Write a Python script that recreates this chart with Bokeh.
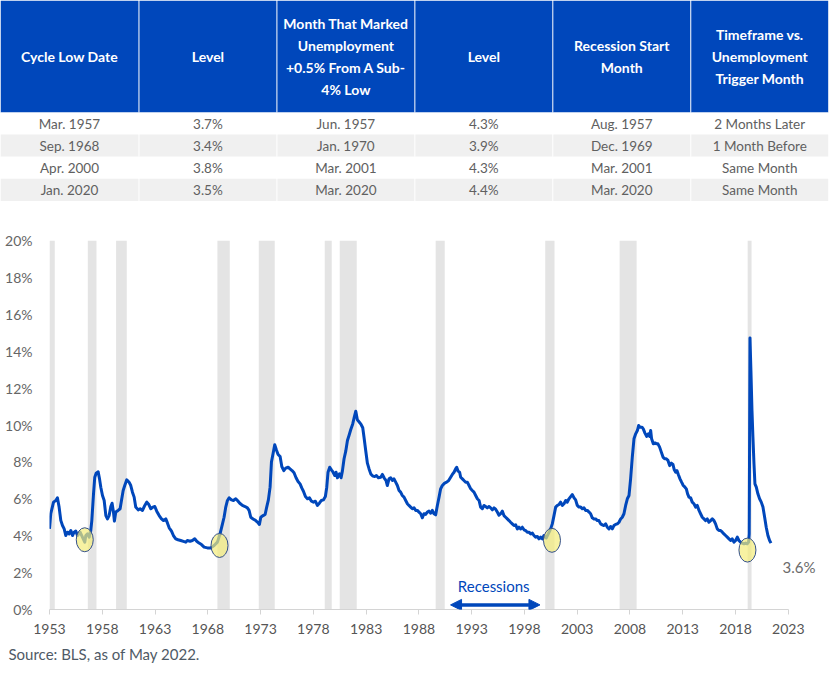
from bokeh.plotting import figure
from bokeh.layouts import column
from bokeh.models import (ColumnDataSource, Range1d, FixedTicker, PrintfTickFormatter,
                          Label, Arrow, NormalHead)
from bokeh.core.properties import value
from bokeh.embed import file_html
from bokeh.resources import INLINE

FONT = "Lato"
BLUE = "#0047bb"

# ---------------- table data ----------------
column_headers = [
    ["Cycle Low Date"],
    ["Level"],
    ["Month That Marked", "Unemployment", "+0.5% From A Sub-", "4% Low"],
    ["Level"],
    ["Recession Start", "Month"],
    ["Timeframe vs.", "Unemployment", "Trigger Month"],
]
cycle_low_date = ["Mar. 1957", "Sep. 1968", "Apr. 2000", "Jan. 2020"]
cycle_low_level = ["3.7%", "3.4%", "3.8%", "3.5%"]
trigger_month = ["Jun. 1957", "Jan. 1970", "Mar. 2001", "Mar. 2020"]
trigger_level = ["4.3%", "3.9%", "4.3%", "4.4%"]
recession_start_month = ["Aug. 1957", "Dec. 1969", "Mar. 2001", "Mar. 2020"]
timeframe = ["2 Months Later", "1 Month Before", "Same Month", "Same Month"]

# ---------------- chart data (positions on the chart's own time axis) ----------------
years = [
    1953.00, 1953.12, 1953.38, 1953.60, 1953.75, 1953.91, 1954.07, 1954.23, 1954.39, 1954.54,
    1954.70, 1954.86, 1955.02, 1955.18, 1955.33, 1955.49, 1955.65, 1955.90, 1956.12, 1956.34,
    1956.44, 1956.60, 1956.76, 1956.91, 1957.01, 1957.17, 1957.29, 1957.42, 1957.61, 1957.74,
    1957.86, 1958.02, 1958.18, 1958.34, 1958.49, 1958.65, 1958.81, 1958.93, 1959.06, 1959.15,
    1959.28, 1959.50, 1959.69, 1959.82, 1959.98, 1960.13, 1960.32, 1960.54, 1960.70, 1960.86,
    1961.02, 1961.17, 1961.40, 1961.59, 1961.81, 1962.03, 1962.22, 1962.41, 1962.60, 1962.79,
    1962.98, 1963.16, 1963.39, 1963.61, 1963.80, 1964.02, 1964.18, 1964.34, 1964.56, 1964.74,
    1964.96, 1965.18, 1965.43, 1965.69, 1965.91, 1966.06, 1966.32, 1966.54, 1966.76, 1966.95,
    1967.17, 1967.40, 1967.65, 1967.96,
    1968.28, 1968.60, 1968.91, 1969.16, 1969.39, 1969.54, 1969.70, 1969.86, 1970.02, 1970.24,
    1970.43, 1970.65, 1970.81, 1971.03, 1971.28, 1971.53, 1971.75, 1971.91, 1972.07, 1972.29,
    1972.54, 1972.76, 1972.89, 1973.02, 1973.24, 1973.43, 1973.58, 1973.74, 1973.90, 1974.03,
    1974.18, 1974.34, 1974.50, 1974.66, 1974.85, 1975.01, 1975.20, 1975.38, 1975.61, 1975.79,
    1975.98, 1976.17, 1976.36, 1976.55, 1976.74, 1976.90, 1977.06, 1977.25, 1977.44, 1977.63,
    1977.82, 1978.01, 1978.19, 1978.38, 1978.57, 1978.76, 1978.95, 1979.14, 1979.27, 1979.39,
    1979.55, 1979.71, 1979.87, 1980.03, 1980.15, 1980.28, 1980.47, 1980.63, 1980.75, 1980.91,
    1981.07, 1981.23, 1981.38, 1981.54, 1981.73, 1981.89, 1982.02, 1982.17, 1982.36, 1982.52,
    1982.68, 1982.80, 1982.96, 1983.12, 1983.28, 1983.44, 1983.63, 1983.82, 1983.97, 1984.16,
    1984.38, 1984.54, 1984.70, 1984.89, 1985.01, 1985.17, 1985.33,
    1985.49, 1985.64, 1985.80, 1985.96, 1986.12, 1986.27, 1986.43, 1986.59, 1986.75, 1986.91,
    1987.06, 1987.22, 1987.38, 1987.54, 1987.70, 1987.85, 1988.01, 1988.17, 1988.33, 1988.48,
    1988.64, 1988.80, 1988.96, 1989.12, 1989.27, 1989.43, 1989.59, 1989.75, 1989.91, 1990.06,
    1990.22, 1990.44, 1990.63, 1990.82, 1991.01, 1991.17, 1991.33, 1991.48, 1991.58, 1991.71,
    1991.86, 1991.96, 1992.12, 1992.27, 1992.43, 1992.59, 1992.75, 1992.91, 1993.06, 1993.22,
    1993.38, 1993.54, 1993.70, 1993.85, 1994.01, 1994.17, 1994.33, 1994.48, 1994.64, 1994.80,
    1994.96, 1995.12, 1995.27, 1995.43, 1995.59, 1995.75, 1995.91, 1996.06, 1996.22, 1996.38,
    1996.54, 1996.69, 1996.85, 1997.01, 1997.17, 1997.33, 1997.48, 1997.64, 1997.80, 1997.96,
    1998.12, 1998.27, 1998.43, 1998.59, 1998.75, 1998.90, 1999.06, 1999.22, 1999.38, 1999.54,
    1999.69, 1999.85, 2000.07, 2000.26, 2000.48, 2000.64, 2000.80, 2000.96, 2001.12, 2001.27,
    2001.43,
    2001.59, 2001.75, 2001.91, 2002.06, 2002.22, 2002.38, 2002.54, 2002.70, 2002.85, 2003.01,
    2003.17, 2003.33, 2003.48, 2003.64, 2003.80, 2003.96, 2004.12, 2004.27, 2004.43, 2004.59,
    2004.75, 2004.91, 2005.06, 2005.22, 2005.38, 2005.54, 2005.70, 2005.85, 2006.01, 2006.17,
    2006.33, 2006.48, 2006.64, 2006.80, 2006.96, 2007.12, 2007.27, 2007.43, 2007.59, 2007.75,
    2007.91, 2008.06, 2008.22, 2008.38, 2008.54, 2008.70, 2008.82, 2008.95, 2009.14, 2009.26,
    2009.42, 2009.58, 2009.74, 2009.86, 2009.96, 2010.05, 2010.21, 2010.37, 2010.53, 2010.65,
    2010.81, 2010.97, 2011.13, 2011.28, 2011.44, 2011.60, 2011.76, 2011.92, 2012.07, 2012.20,
    2012.33, 2012.45, 2012.58, 2012.74, 2012.89, 2013.05, 2013.21, 2013.34, 2013.46, 2013.59,
    2013.75,
    2013.90, 2014.06, 2014.22, 2014.38, 2014.54, 2014.69, 2014.85, 2015.01, 2015.17, 2015.32,
    2015.48, 2015.64, 2015.80, 2015.96, 2016.11, 2016.27, 2016.43, 2016.59, 2016.75, 2016.90,
    2017.06, 2017.22, 2017.38, 2017.54, 2017.69, 2017.85, 2018.01, 2018.17, 2018.32, 2018.48,
    2018.64, 2018.80, 2018.96, 2019.11, 2019.24, 2019.30, 2019.37, 2019.46, 2019.56, 2019.65,
    2019.75, 2019.84, 2019.97, 2020.12, 2020.28, 2020.44, 2020.60, 2020.76, 2020.91, 2021.07,
    2021.23, 2021.36,
]
rates = [
    4.37, 5.19, 5.82, 5.91, 6.05, 5.55, 4.83, 4.55, 4.37, 4.01,
    4.19, 4.10, 4.28, 4.01, 4.19, 4.25, 4.01, 4.19, 3.92, 3.65,
    4.01, 4.10, 3.92, 4.28, 4.82, 6.27, 7.17, 7.39, 7.46, 7.08,
    6.63, 6.18, 5.91, 5.09, 4.91, 5.09, 5.58, 5.76, 5.28, 4.79,
    5.28, 5.37, 5.46, 5.91, 6.45, 6.72, 7.03, 6.90, 6.72, 6.36,
    6.09, 5.55, 5.40, 5.46, 5.37, 5.64, 5.82, 5.69, 5.46, 5.55,
    5.58, 5.33, 5.09, 4.91, 4.82, 4.91, 4.68, 4.43, 4.25, 4.01,
    3.83, 3.78, 3.74, 3.69, 3.65, 3.74, 3.70, 3.74, 3.83, 3.70,
    3.60, 3.52, 3.38, 3.34,
    3.34, 3.47, 3.65, 4.10, 4.64, 5.00, 5.55, 5.91, 6.05, 5.94,
    5.91, 6.00, 5.91, 5.76, 5.64, 5.58, 5.51, 5.37, 5.00, 4.91,
    4.82, 4.70, 4.61, 5.00, 5.09, 5.15, 5.55, 5.94, 6.63, 7.99,
    8.44, 8.93, 8.65, 8.40, 8.29, 7.75, 7.53, 7.66, 7.71, 7.62,
    7.53, 7.41, 7.14, 6.94, 6.81, 6.59, 6.41, 6.12, 6.00, 6.05,
    5.87, 5.82, 5.87, 5.64, 5.76, 5.91, 5.94, 6.12, 6.63, 7.44,
    7.71, 7.57, 7.44, 7.26, 7.44, 7.14, 7.35, 7.14, 7.50, 8.17,
    8.58, 9.16, 9.43, 9.74, 10.06, 10.46, 10.75, 10.28, 10.15, 10.03,
    9.85, 9.34, 8.62, 7.93, 7.62, 7.35, 7.23, 7.21, 7.26, 7.14,
    7.17, 7.32, 7.14, 6.99, 6.72, 7.08, 7.14,
    6.99, 7.08, 6.90, 6.72, 6.45, 6.36, 6.18, 6.09, 5.91, 5.73,
    5.64, 5.55, 5.46, 5.51, 5.37, 5.37, 5.28, 5.19, 4.97, 5.19,
    5.15, 5.28, 5.33, 5.22, 5.37, 5.19, 5.13, 5.64, 6.09, 6.54,
    6.72, 6.85, 6.90, 6.99, 7.17, 7.32, 7.44, 7.62, 7.71, 7.50,
    7.44, 7.17, 7.08, 6.99, 6.90, 6.90, 6.72, 6.54, 6.45, 6.36,
    6.18, 6.00, 5.91, 5.55, 5.46, 5.64, 5.58, 5.51, 5.58, 5.51,
    5.40, 5.51, 5.44, 5.28, 5.11, 5.19, 5.33, 5.09, 5.00, 4.91,
    4.82, 4.73, 4.64, 4.55, 4.59, 4.37, 4.46, 4.37, 4.46, 4.32,
    4.28, 4.19, 4.19, 4.10, 4.14, 4.01, 3.92, 3.96, 3.83, 3.92,
    3.83, 4.01, 3.88, 4.10, 4.37, 4.64, 5.09, 5.55, 5.64, 5.69,
    5.82,
    5.64, 5.73, 5.91, 5.82, 6.00, 6.12, 6.23, 6.05, 5.94, 5.64,
    5.55, 5.55, 5.46, 5.51, 5.37, 5.37, 5.28, 5.19, 4.97, 4.91,
    4.91, 4.82, 4.82, 4.64, 4.59, 4.55, 4.64, 4.46, 4.37, 4.50,
    4.37, 4.55, 4.61, 4.64, 4.73, 4.91, 5.00, 5.19, 5.64, 6.00,
    6.18, 7.08, 8.26, 9.25, 9.52, 9.70, 9.97, 9.88, 9.88, 9.79,
    9.56, 9.38, 9.52, 9.38, 9.70, 9.25, 8.98, 9.03, 8.98, 8.98,
    8.80, 8.53, 8.26, 8.17, 8.17, 8.08, 7.80, 7.93, 7.86, 7.57,
    7.44, 7.53, 7.32, 7.08, 6.90, 6.72, 6.63, 6.54, 6.27, 6.09,
    6.05,
    5.82, 5.73, 5.55, 5.64, 5.37, 5.19, 5.00, 4.91, 4.82, 4.91,
    4.73, 4.82, 4.91, 4.82, 4.64, 4.37, 4.28, 4.28, 4.19, 4.10,
    4.01, 3.92, 3.83, 3.74, 3.83, 3.65, 3.74, 3.92, 3.74, 3.65,
    3.60, 3.56, 3.60, 3.56, 3.65, 4.10, 14.72, 12.95, 10.79, 9.34,
    7.90, 6.81, 6.63, 6.27, 6.00, 5.82, 5.55, 5.00, 4.46, 4.01,
    3.74, 3.60,
]
recession_start = [1953.00, 1956.63, 1959.31, 1968.91, 1972.83, 1979.08, 1980.50,
                   1989.59, 1999.97, 2007.02, 2019.15]
recession_end = [1953.50, 1957.45, 1960.32, 1970.08, 1974.34, 1979.74, 1982.11,
                 1990.45, 2000.85, 2008.63, 2019.52]
cycle_low_x = [1956.34, 1969.11, 2000.61, 2019.13]
cycle_low_y = [3.78, 3.47, 3.75, 3.22]
x_ticks = [1953, 1958, 1963, 1968, 1973, 1978, 1983, 1988, 1993, 1998, 2003, 2008, 2013, 2018, 2023]
y_ticks = [0, 2, 4, 6, 8, 10, 12, 14, 16, 18, 20]
source_note = "Source: BLS, as of May 2022."

W = 839

# ---------------- table figure ----------------
TABLE_H = 205
COL_W = 137.95
HEADER_H = 112
ROW_H = 22.1
LINE_H = 22

t = figure(width=W, height=TABLE_H, x_range=Range1d(0, W), y_range=Range1d(TABLE_H, 0),
           output_backend="svg", toolbar_location=None, x_axis_type=None, y_axis_type=None,
           min_border=0, frame_align=False)
t.outline_line_color = None
t.xgrid.visible = False
t.ygrid.visible = False

n_cols = len(column_headers)
cell_l = [i * COL_W + (1 if i else 0) for i in range(n_cols)]
cell_r = [(i + 1) * COL_W for i in range(n_cols)]
t.quad(left=cell_l, right=cell_r, top=[0] * n_cols, bottom=[HEADER_H] * n_cols,
       fill_color=BLUE, line_color=None)

body_cols = [cycle_low_date, cycle_low_level, trigger_month, trigger_level,
             recession_start_month, timeframe]
n_rows = len(cycle_low_date)
cells = dict(l=[], r=[], t=[], b=[], fill=[])
body_txt = dict(x=[], y=[], text=[])
for r in range(n_rows):
    for i in range(n_cols):
        cells["l"].append(cell_l[i])
        cells["r"].append(cell_r[i])
        cells["t"].append(HEADER_H + r * ROW_H)
        cells["b"].append(HEADER_H + (r + 1) * ROW_H)
        cells["fill"].append("#ffffff" if r % 2 == 0 else "#f0f0f0")
        body_txt["x"].append((cell_l[i] + cell_r[i]) / 2)
        body_txt["y"].append(HEADER_H + (r + 0.5) * ROW_H)
        body_txt["text"].append(body_cols[i][r])
t.quad(left="l", right="r", top="t", bottom="b", fill_color="fill", line_color=None,
       source=ColumnDataSource(cells))
t.text(x="x", y="y", text="text", source=ColumnDataSource(body_txt),
       text_align="center", text_baseline="middle", text_font=value(FONT),
       text_font_size="13.5px", text_color="#606060")

head_txt = dict(x=[], y=[], text=[])
for i, lines in enumerate(column_headers):
    n = len(lines)
    for k, line in enumerate(lines):
        head_txt["x"].append((cell_l[i] + cell_r[i]) / 2)
        head_txt["y"].append(HEADER_H / 2 + (k - (n - 1) / 2) * LINE_H)
        head_txt["text"].append(line)
t.text(x="x", y="y", text="text", source=ColumnDataSource(head_txt),
       text_align="center", text_baseline="middle", text_font=value(FONT),
       text_font_size="14px", text_font_style="bold", text_color="white")

# ---------------- chart figure ----------------
CHART_H = 435
p = figure(width=W, height=CHART_H, x_range=Range1d(1953, 2027), y_range=Range1d(0, 20),
           output_backend="svg", toolbar_location=None, frame_align=False,
           min_border_left=49, min_border_right=9, min_border_top=35, min_border_bottom=31)
p.outline_line_color = None
p.xgrid.visible = False
p.ygrid.visible = False

p.quad(left=recession_start, right=recession_end, bottom=0, top=20,
       fill_color="#e4e4e4", line_color=None)
p.line(years, rates, line_color=BLUE, line_width=3, line_join="round")
p.ellipse(x=cycle_low_x, y=cycle_low_y, width=17, height=24,
          width_units="screen", height_units="screen",
          fill_color="#f3ec7a", fill_alpha=0.7, line_color="#34508a", line_width=1)

p.yaxis.ticker = FixedTicker(ticks=y_ticks)
p.yaxis.formatter = PrintfTickFormatter(format="%d%%")
p.yaxis.axis_line_color = None
p.yaxis.major_tick_line_color = None
p.yaxis.minor_tick_line_color = None
p.yaxis.major_tick_out = 0
p.yaxis.major_tick_in = 0
p.yaxis.major_label_standoff = 17
p.yaxis.major_label_text_font = FONT
p.yaxis.major_label_text_font_size = "14px"
p.yaxis.major_label_text_color = "#666666"

p.xaxis.ticker = FixedTicker(ticks=x_ticks)
p.xaxis.bounds = (x_ticks[0], x_ticks[-1])
p.xaxis.axis_line_color = "#d4d4d4"
p.xaxis.major_tick_line_color = "#d4d4d4"
p.xaxis.minor_tick_line_color = None
p.xaxis.major_tick_out = 5
p.xaxis.major_tick_in = 0
p.xaxis.major_label_standoff = 9
p.xaxis.major_label_text_font = FONT
p.xaxis.major_label_text_font_size = "14px"
p.xaxis.major_label_text_color = "#555555"

p.add_layout(Arrow(start=NormalHead(size=11, fill_color=BLUE, line_color=BLUE),
                   end=NormalHead(size=11, fill_color=BLUE, line_color=BLUE),
                   x_start=1991.0, y_start=0.25, x_end=1999.47, y_end=0.25,
                   line_color=BLUE, line_width=3.5))
p.add_layout(Label(x=1995.09, y=1.30, text="Recessions", text_align="center",
                   text_baseline="middle", text_font=FONT, text_font_size="15px",
                   text_color=BLUE))
p.add_layout(Label(x=2022.46, y=2.33, text=f"{rates[-1]:.1f}%", text_align="left",
                   text_baseline="middle", text_font=FONT, text_font_size="15px",
                   text_color="#6b6b6b"))

# ---------------- footer figure (source note) ----------------
FOOT_H = 674 - TABLE_H - CHART_H
f = figure(width=W, height=FOOT_H, x_range=Range1d(0, W), y_range=Range1d(FOOT_H, 0),
           output_backend="svg", toolbar_location=None, x_axis_type=None, y_axis_type=None,
           min_border=0, frame_align=False)
f.outline_line_color = None
f.xgrid.visible = False
f.ygrid.visible = False
f.text(x=[8], y=[13], text=[source_note], text_align="left", text_baseline="middle",
       text_font=value(FONT), text_font_size="15px", text_color="#4f5a66")

layout = column(t, p, f, spacing=0)
open("out.html", "w").write(file_html(layout, INLINE, title="Unemployment cycle lows"))
